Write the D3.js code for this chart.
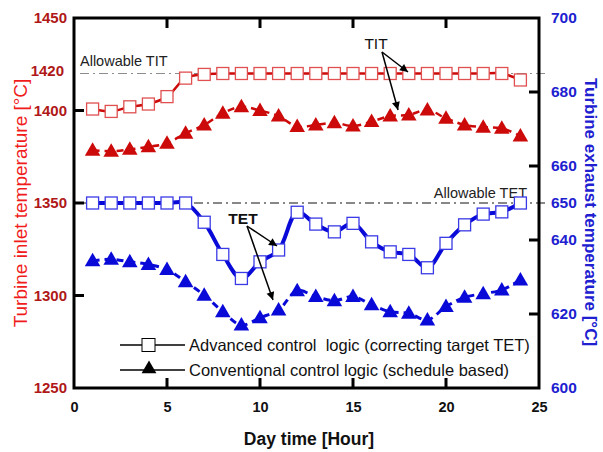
<!DOCTYPE html>
<html>
<head>
<meta charset="utf-8">
<script src="https://cdnjs.cloudflare.com/ajax/libs/d3/7.8.5/d3.min.js"></script>
<style>
	body { margin: 0; background: #fff; }
	text { font-family: Arial, "Liberation Sans", sans-serif; }
</style>
</head>
<body>
<div id="chart"></div>
<script>
// hours of the day
var hours = d3.range(1, 25);

// turbine inlet temperature [°C], left axis
var titAdvanced = [1400.8, 1399.5, 1402, 1403.5, 1407.5, 1417.5, 1419.5, 1420, 1420, 1420, 1420, 1420,
	1420, 1420, 1420, 1420, 1420, 1420, 1420, 1420, 1420, 1420, 1420, 1416.5];
var titConventional = [1378.5, 1378, 1379, 1380.4, 1382.3, 1387.7, 1392.2, 1398.5, 1402, 1400, 1397, 1391.3,
	1392.2, 1393.4, 1391.6, 1394, 1397, 1397.6, 1400.3, 1395.8, 1392.2, 1391, 1390.4, 1386.2];

// turbine exhaust temperature [°C], right axis
var tetAdvanced = [650, 650, 650, 650, 650, 650, 644.8, 636.1, 629.6, 634.1, 637.3, 647.5,
	644.3, 642.2, 644.5, 639.5, 636.8, 636.1, 632.5, 639.1, 644.1, 647, 647.6, 650];
var tetConventional = [634.4, 634.8, 634.1, 633.4, 632, 628.7, 625.1, 620.6, 617, 619, 621.1, 626.3,
	624.7, 623.6, 624.7, 622.5, 620.6, 620.2, 618.4, 622, 624.5, 625.5, 626.5, 629.2];

var xTicks = [0, 5, 10, 15, 20, 25];
var leftTicks = [1250, 1300, 1350, 1400, 1450];
var leftExtraLabel = 1420;
var rightTicks = [600, 620, 640, 660, 680, 700];
var rightExtraLabel = 650;
var allowableTIT = 1420, allowableTET = 650;
var legendLabels = ["Advanced control  logic (correcting target TET)", "Conventional control logic (schedule based)"];

const W = 603, H = 452,
	LEFT = 74, RIGHT = 539, TOP = 18, BOTTOM = 388,
	TICK = 10,
	RED = "#cc0a0a", RED_LIGHT = "#e05050", RED_LABEL = "#b01818", RED_TITLE = "#f01c1c",
	BLUE = "#0a0ad8", BLUE_LIGHT = "#3a3ae6", BLUE_LABEL = "#2020d0";

var svg = d3.select("#chart").append("svg")
	.attr("width", W)
	.attr("height", H);

var defs = svg.append("defs");
defs.append("marker")
	.attr("id", "arrow")
	.attr("viewBox", "0 0 10 10")
	.attr("refX", 10).attr("refY", 5)
	.attr("markerWidth", 11).attr("markerHeight", 8)
	.attr("markerUnits", "userSpaceOnUse")
	.attr("orient", "auto")
	.append("path")
	.attr("d", "M0,0 L10,5 L0,10 z")
	.attr("fill", "#000");

var x = d3.scaleLinear().domain([0, 25]).range([LEFT, RIGHT]);
var yL = d3.scaleLinear().domain([1250, 1450]).range([BOTTOM, TOP]);
var yR = d3.scaleLinear().domain([600, 700]).range([BOTTOM, TOP]);
var fmt = d3.format("d");

// allowable limits (dash-dot)
svg.append("line")
	.attr("x1", LEFT + 6).attr("x2", RIGHT + 9)
	.attr("y1", yL(allowableTIT)).attr("y2", yL(allowableTIT))
	.attr("stroke", "#8c8c8c").attr("stroke-width", 1.2)
	.attr("stroke-dasharray", "9,4,2,4");
svg.append("line")
	.attr("x1", LEFT + 6).attr("x2", RIGHT + 9)
	.attr("y1", yR(allowableTET)).attr("y2", yR(allowableTET))
	.attr("stroke", "#111").attr("stroke-width", 1)
	.attr("stroke-dasharray", "9,4,2,4");

svg.append("text")
	.attr("x", 80).attr("y", 66)
	.attr("font-size", 14.5).attr("fill", "#222")
	.text("Allowable TIT");
svg.append("text")
	.attr("x", 527).attr("y", 198)
	.attr("text-anchor", "end")
	.attr("font-size", 14.5).attr("fill", "#222")
	.text("Allowable TET");

// series
var drawSeries = function(values, yScale, opt) {
	var pts = hours.map(function(h, i) { return [x(h), yScale(values[i])]; });
	var line = d3.line().curve(d3.curveCatmullRom.alpha(0.5));
	svg.append("path")
		.attr("d", line(pts))
		.attr("fill", "none")
		.attr("stroke", opt.color)
		.attr("stroke-width", opt.width)
		.attr("stroke-dasharray", opt.dash || null);
	var g = svg.append("g");
	if (opt.square) {
		g.selectAll("rect").data(pts).enter().append("rect")
			.attr("x", function(d) { return d[0] - 6; })
			.attr("y", function(d) { return d[1] - 6; })
			.attr("width", 12).attr("height", 12)
			.attr("fill", "#fff")
			.attr("stroke", opt.edge)
			.attr("stroke-width", 1.3);
	} else {
		var tri = d3.symbol().type(d3.symbolTriangle).size(105);
		g.selectAll("path").data(pts).enter().append("path")
			.attr("d", tri)
			.attr("transform", function(d) { return "translate(" + d[0] + "," + (d[1] + 1) + ")"; })
			.attr("fill", opt.color);
	}
};

drawSeries(titConventional, yL, {color: RED, width: 2.5, dash: "7,5"});
drawSeries(tetConventional, yR, {color: BLUE, width: 3, dash: "7,5"});
drawSeries(titAdvanced, yL, {color: RED, width: 2.5, square: true, edge: RED_LIGHT});
drawSeries(tetAdvanced, yR, {color: BLUE, width: 4, square: true, edge: BLUE_LIGHT});

// frame and axes
svg.append("rect")
	.attr("x", LEFT).attr("y", TOP)
	.attr("width", RIGHT - LEFT).attr("height", BOTTOM - TOP)
	.attr("fill", "none").attr("stroke", "#000").attr("stroke-width", 3);

var xAxis = d3.axisBottom(x).tickValues(xTicks).tickFormat(fmt).tickSize(0).tickPadding(14);
svg.append("g")
	.attr("transform", "translate(0," + BOTTOM + ")")
	.call(xAxis)
	.call(function(g) { g.select(".domain").remove(); })
	.selectAll("text")
	.attr("font-size", 14.5).attr("font-weight", "bold").attr("fill", "#111");

// inner ticks on all four sides
var tk = svg.append("g").attr("stroke", "#000").attr("stroke-width", 3);
xTicks.slice(1, -1).forEach(function(t) {
	tk.append("line").attr("x1", x(t)).attr("x2", x(t)).attr("y1", BOTTOM).attr("y2", BOTTOM - TICK);
	tk.append("line").attr("x1", x(t)).attr("x2", x(t)).attr("y1", TOP).attr("y2", TOP + TICK);
});
leftTicks.slice(1, -1).forEach(function(t) {
	tk.append("line").attr("x1", LEFT).attr("x2", LEFT + TICK).attr("y1", yL(t)).attr("y2", yL(t));
});
rightTicks.slice(1, -1).forEach(function(t) {
	tk.append("line").attr("x1", RIGHT).attr("x2", RIGHT - TICK).attr("y1", yR(t)).attr("y2", yR(t));
});

var yAxisL = d3.axisLeft(yL).tickValues(leftTicks.concat([leftExtraLabel])).tickFormat(fmt).tickSize(0).tickPadding(7);
svg.append("g")
	.attr("transform", "translate(" + LEFT + ",0)")
	.call(yAxisL)
	.call(function(g) { g.select(".domain").remove(); })
	.selectAll("text")
	.attr("font-size", 15).attr("font-weight", "bold").attr("fill", RED_LABEL)
	.attr("dx", function(d) { return d == leftExtraLabel ? -3 : 0; })
	.attr("dy", function(d) { return d == leftExtraLabel ? "0.1em" : "0.32em"; });

var yAxisR = d3.axisRight(yR).tickValues(rightTicks.concat([rightExtraLabel])).tickFormat(fmt).tickSize(0).tickPadding(12);
svg.append("g")
	.attr("transform", "translate(" + RIGHT + ",0)")
	.call(yAxisR)
	.call(function(g) { g.select(".domain").remove(); })
	.selectAll("text")
	.attr("font-size", 15.5).attr("font-weight", "bold").attr("fill", BLUE_LABEL);

// axis titles
svg.append("text")
	.attr("transform", "translate(27,203) rotate(-90)")
	.attr("text-anchor", "middle")
	.attr("font-size", 19).attr("fill", RED_TITLE)
	.text("Turbine inlet temperature [°C]");
svg.append("text")
	.attr("transform", "translate(585,212) rotate(90)")
	.attr("text-anchor", "middle")
	.attr("font-size", 17).attr("font-weight", "bold").attr("fill", BLUE_LABEL)
	.text("Turbine exhaust temperature [°C]");
svg.append("text")
	.attr("x", 309).attr("y", 445)
	.attr("text-anchor", "middle")
	.attr("font-size", 17.5).attr("font-weight", "bold").attr("fill", "#111")
	.text("Day time [Hour]");

// annotations
svg.append("text")
	.attr("x", 376).attr("y", 49)
	.attr("text-anchor", "middle")
	.attr("font-size", 15.5).attr("fill", "#111")
	.text("TIT");
[[408, 72], [398, 110]].forEach(function(p) {
	svg.append("line")
		.attr("x1", 382).attr("y1", 52).attr("x2", p[0]).attr("y2", p[1])
		.attr("stroke", "#000").attr("stroke-width", 1.5)
		.attr("marker-end", "url(#arrow)");
});
svg.append("text")
	.attr("x", 243).attr("y", 224)
	.attr("text-anchor", "middle")
	.attr("font-size", 15.5).attr("font-weight", "bold").attr("fill", "#111")
	.text("TET");
[[277, 246], [273, 300]].forEach(function(p) {
	svg.append("line")
		.attr("x1", 247).attr("y1", 226).attr("x2", p[0]).attr("y2", p[1])
		.attr("stroke", "#000").attr("stroke-width", 1.5)
		.attr("marker-end", "url(#arrow)");
});

// legend
var legend = svg.selectAll(".legend")
	.data(legendLabels)
	.enter().append("g")
	.attr("class", "legend")
	.attr("transform", function(d, i) { return "translate(0," + (345 + i * 25) + ")"; });
legend.append("line")
	.attr("x1", 120).attr("x2", 185)
	.attr("stroke", "#000").attr("stroke-width", 1.5);
legend.filter(function(d, i) { return i == 0; }).append("rect")
	.attr("x", 142).attr("y", -6.5).attr("width", 13).attr("height", 13)
	.attr("fill", "#fff").attr("stroke", "#000").attr("stroke-width", 1);
legend.filter(function(d, i) { return i == 1; }).append("path")
	.attr("d", d3.symbol().type(d3.symbolTriangle).size(95))
	.attr("transform", "translate(149,-1)")
	.attr("fill", "#000");
legend.append("text")
	.attr("x", 189).attr("y", 0)
	.attr("dy", "0.35em")
	.attr("font-size", 16.5).attr("fill", "#111")
	.style("white-space", "pre")
	.text(function(d) { return d; });
</script>
</body>
</html>
